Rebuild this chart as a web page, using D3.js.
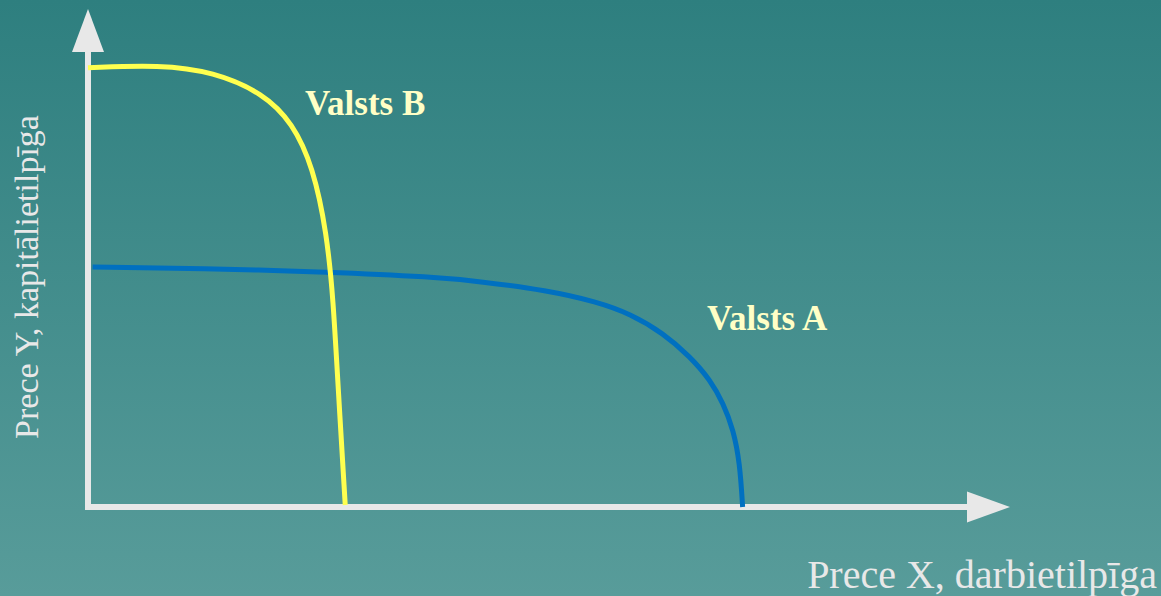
<!DOCTYPE html>
<html>
<head>
<meta charset="utf-8">
<script src="https://cdn.jsdelivr.net/npm/d3@7"></script>
<style>
  html, body { margin: 0; padding: 0; overflow: hidden; }
  svg { display: block; }
</style>
</head>
<body>
<script>
// curve points in chart units (x: Prece X, y: Prece Y), 0..100 on both axes
const valstsB_x = [0, 7.8, 13.6, 19, 22.2, 24.4, 25.9, 26.6, 27.1, 27.9];
const valstsB_y = [88.2, 88.8, 87.4, 83.1, 77.1, 68.3, 55, 41.6, 24.9, 0.4];
const valstsA_x = [0.5, 12.2, 26.3, 37.4, 42.5, 49.8, 55.2, 58.8, 62.4, 65.3, 67.5, 68.9, 70, 70.7, 71];
const valstsA_y = [48.2, 47.9, 47.2, 46.2, 45.3, 43.5, 41.2, 38.8, 34.9, 30.2, 25.5, 20.8, 15.5, 8.8, 0];
const seriesNames = ["Valsts B", "Valsts A"];
const axisTitles = ["Prece X, darbietilpīga", "Prece Y, kapitālietilpīga"];

const W = 1161, H = 596;
const svg = d3.select("body").append("svg").attr("width", W).attr("height", H);

const defs = svg.append("defs");
const grad = defs.append("linearGradient").attr("id", "bg")
    .attr("x1", 0).attr("y1", 0).attr("x2", 0).attr("y2", 1);
grad.append("stop").attr("offset", "0%").attr("stop-color", "#2e7f7f");
grad.append("stop").attr("offset", "100%").attr("stop-color", "#589c9a");
svg.append("rect").attr("width", W).attr("height", H).attr("fill", "url(#bg)");

const x = d3.scaleLinear().domain([0, 100]).range([88, 1010]);
const y = d3.scaleLinear().domain([0, 100]).range([507, 9]);

// axes
const axisCol = "#e8e8e8";
svg.append("line")
    .attr("x1", x(0)).attr("y1", y(0) + 3)
    .attr("x2", x(0)).attr("y2", 50)
    .attr("stroke", axisCol).attr("stroke-width", 6);
svg.append("line")
    .attr("x1", x(0) - 3).attr("y1", y(0))
    .attr("x2", 968).attr("y2", y(0))
    .attr("stroke", axisCol).attr("stroke-width", 6);
svg.append("path")
    .attr("d", `M${x(0)},${y(100)} L${x(0) + 16},52 L${x(0) - 16},52 Z`)
    .attr("fill", axisCol);
svg.append("path")
    .attr("d", `M${x(100)},${y(0)} L967,${y(0) - 15.5} L967,${y(0) + 15.5} Z`)
    .attr("fill", axisCol);

const line = d3.line()
    .x(d => x(d[0])).y(d => y(d[1]))
    .curve(d3.curveBasis);

svg.append("path")
    .datum(valstsA_x.map((v, i) => [v, valstsA_y[i]]))
    .attr("d", line)
    .attr("fill", "none").attr("stroke", "#0070c0").attr("stroke-width", 5);

svg.append("path")
    .datum(valstsB_x.map((v, i) => [v, valstsB_y[i]]))
    .attr("d", line)
    .attr("fill", "none").attr("stroke", "#ffff4f").attr("stroke-width", 5);

// series labels
const lab = "#ffffc6";
svg.append("text").attr("x", 305).attr("y", 115)
    .attr("font-family", "Liberation Serif, serif").attr("font-weight", "bold")
    .attr("font-size", 35).attr("fill", lab).text(seriesNames[0]);
svg.append("text").attr("x", 707).attr("y", 330)
    .attr("font-family", "Liberation Serif, serif").attr("font-weight", "bold")
    .attr("font-size", 35).attr("fill", lab).text(seriesNames[1]);

// axis titles
svg.append("text").attr("x", 1157).attr("y", 588)
    .attr("text-anchor", "end")
    .attr("font-family", "Liberation Serif, serif")
    .attr("font-size", 40).attr("fill", "#e8e8e8").text(axisTitles[0]);
svg.append("text")
    .attr("transform", "translate(38,277) rotate(-90)")
    .attr("text-anchor", "middle")
    .attr("font-family", "Liberation Serif, serif")
    .attr("font-size", 34).attr("fill", "#e8e8e8").text(axisTitles[1]);
</script>
</body>
</html>
